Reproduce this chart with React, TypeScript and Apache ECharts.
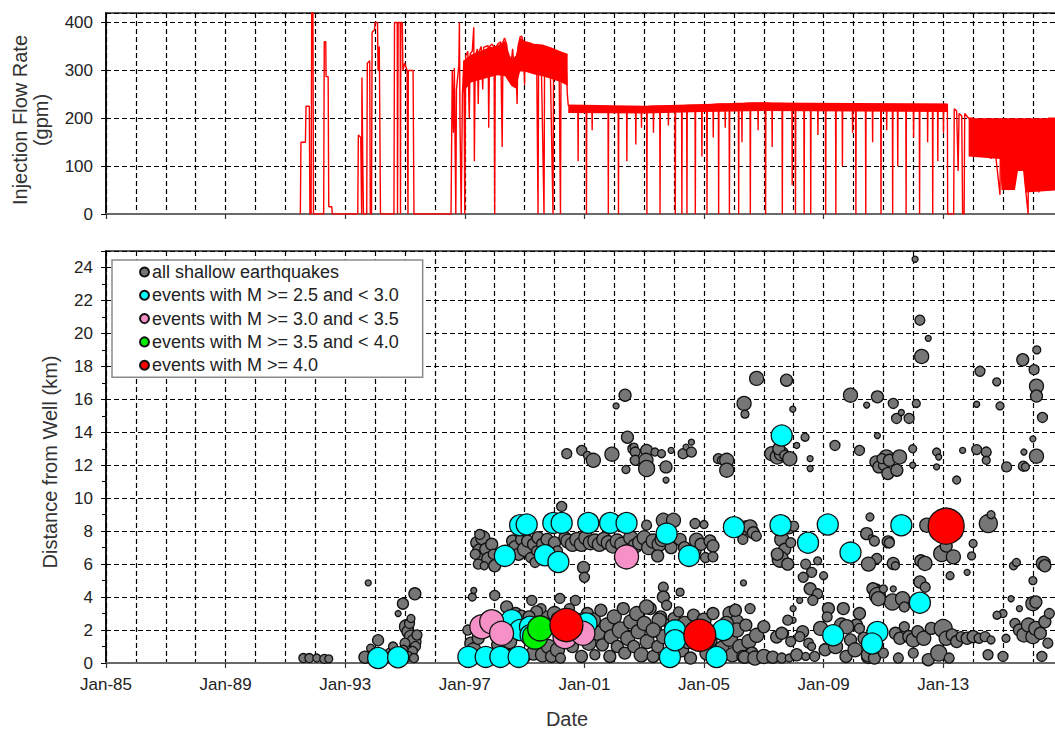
import React, { useEffect, useRef } from 'react';
import * as echarts from 'echarts';

const X_MIN = 1985;
const X_MAX = 2016.94;
const FONT = '"Liberation Sans", Arial, sans-serif';

// Injection flow rate (gpm) [decimal year, rate]
const flowRate: [number, number][] = [
  [1991.5, 0], [1991.52, 150], [1991.67, 150], [1991.69, 225], [1991.8, 225], [1991.82, 0], [1991.86, 0],
  [1991.88, 430], [1991.92, 430], [1991.94, 0], [1992.28, 0], [1992.3, 360], [1992.35, 360], [1992.36, 287],
  [1992.43, 287], [1992.45, 15], [1992.55, 15], [1992.57, 0],
  [1993.42, 0], [1993.44, 165], [1993.52, 160], [1993.55, 0], [1993.56, 285], [1993.59, 100], [1993.61, 0],
  [1993.72, 0], [1993.74, 315], [1993.82, 320], [1993.84, 0], [1993.88, 0], [1993.9, 380], [1993.98, 385],
  [1994.0, 400], [1994.08, 400], [1994.1, 300], [1994.14, 350], [1994.18, 0], [1994.63, 0], [1994.65, 400],
  [1994.74, 400], [1994.75, 0], [1994.77, 400], [1994.84, 400], [1994.85, 0], [1994.86, 400], [1994.91, 400],
  [1994.93, 300], [1994.99, 315], [1995.07, 300], [1995.1, 0], [1995.11, 300], [1995.27, 300], [1995.3, 0],
  [1996.54, 0], [1996.58, 300], [1996.62, 170], [1996.65, 305], [1996.7, 0], [1996.72, 260], [1996.8, 310],
  [1996.82, 400], [1996.84, 190], [1996.88, 0], [1996.92, 250], [1996.97, 320], [1997.0, 0], [1997.03, 330],
  [1997.1, 340], [1997.15, 200], [1997.18, 335], [1997.25, 340], [1997.3, 390], [1997.32, 110], [1997.35, 330],
  [1997.42, 345], [1997.45, 230], [1997.48, 340], [1997.55, 350], [1997.6, 260], [1997.63, 348], [1997.7, 350],
  [1997.78, 352], [1997.8, 180], [1997.83, 350], [1997.9, 355], [1997.98, 350], [1998.0, 0], [1998.02, 345],
  [1998.1, 355], [1998.2, 360], [1998.25, 140], [1998.28, 360], [1998.33, 368], [1998.4, 355], [1998.45, 320],
  [1998.5, 330], [1998.55, 315], [1998.6, 345], [1998.65, 300], [1998.7, 330], [1998.75, 230], [1998.78, 350],
  [1998.85, 370], [1998.9, 372], [1998.95, 360], [1999.0, 270], [1999.02, 358], [1999.1, 355], [1999.2, 357],
  [1999.3, 352], [1999.4, 350], [1999.45, 0], [1999.47, 350], [1999.55, 348], [1999.65, 0], [1999.67, 347],
  [1999.75, 345], [1999.85, 340], [1999.95, 0], [1999.97, 340], [2000.05, 338], [2000.15, 335], [2000.2, 0],
  [2000.22, 335], [2000.3, 332], [2000.38, 330], [2000.43, 250],
  [2000.46, 227], [2000.6, 225], [2000.78, 225], [2000.79, 110], [2000.8, 225], [2001.06, 225], [2001.07, 0],
  [2001.08, 225], [2001.25, 222], [2001.26, 175], [2001.27, 222], [2001.79, 222], [2001.8, 0], [2001.81, 222],
  [2002.13, 222], [2002.14, 0], [2002.15, 222], [2002.41, 222], [2002.42, 110], [2002.43, 222], [2002.71, 222],
  [2002.72, 145], [2002.73, 222], [2002.9, 223], [2002.91, 180], [2002.92, 223],
  [2003.08, 224], [2003.09, 0], [2003.1, 224], [2003.3, 225], [2003.31, 170], [2003.32, 225], [2003.52, 225],
  [2003.53, 0], [2003.54, 225], [2003.8, 226], [2003.81, 185], [2003.82, 226], [2004.03, 226],
  [2004.04, 0], [2004.05, 226], [2004.25, 226], [2004.26, 0], [2004.27, 226], [2004.42, 227], [2004.43, 0],
  [2004.44, 227], [2004.7, 227], [2004.71, 0], [2004.72, 227], [2004.92, 227], [2004.93, 120], [2004.94, 228],
  [2005.09, 228], [2005.1, 0], [2005.11, 228], [2005.3, 229], [2005.31, 160], [2005.32, 229], [2005.48, 230],
  [2005.49, 0], [2005.5, 230], [2005.7, 230], [2005.71, 180], [2005.72, 230], [2005.84, 230],
  [2005.85, 0], [2005.86, 230], [2006.15, 231], [2006.16, 0], [2006.17, 231], [2006.26, 231], [2006.27, 150],
  [2006.28, 231], [2006.54, 232], [2006.55, 0], [2006.56, 232], [2006.8, 232], [2006.81, 175], [2006.82, 232],
  [2007.05, 232], [2007.06, 0], [2007.07, 232],
  [2007.27, 231], [2007.28, 140], [2007.29, 231], [2007.61, 231], [2007.62, 0], [2007.63, 231], [2007.94, 230],
  [2007.95, 60], [2007.96, 230], [2008.05, 230], [2008.06, 0], [2008.07, 230], [2008.34, 230], [2008.35, 0],
  [2008.36, 230], [2008.56, 230], [2008.57, 0], [2008.58, 230], [2008.8, 230], [2008.81, 165], [2008.82, 230],
  [2009.06, 230], [2009.07, 0], [2009.08, 230],
  [2009.4, 229], [2009.41, 0], [2009.42, 229], [2009.62, 229], [2009.63, 100], [2009.64, 229], [2009.96, 229],
  [2009.97, 170], [2009.98, 229], [2010.07, 229], [2010.08, 0], [2010.09, 229], [2010.4, 229], [2010.41, 0],
  [2010.42, 229], [2010.63, 229], [2010.64, 150], [2010.65, 229], [2010.91, 229], [2010.92, 0], [2010.93, 229],
  [2011.1, 229], [2011.11, 175], [2011.12, 229],
  [2011.3, 229], [2011.31, 0], [2011.32, 229], [2011.47, 229], [2011.48, 100], [2011.49, 229], [2011.75, 229],
  [2011.76, 0], [2011.77, 229], [2012.0, 229], [2012.01, 160], [2012.02, 229], [2012.2, 229], [2012.21, 0],
  [2012.22, 229], [2012.47, 229], [2012.48, 150],
  [2012.49, 229], [2012.64, 229], [2012.65, 0], [2012.66, 229], [2012.81, 229], [2012.82, 110], [2012.83, 229],
  [2013.0, 229], [2013.01, 170], [2013.02, 229], [2013.14, 229], [2013.15, 0],
  [2013.35, 0], [2013.37, 220], [2013.45, 215], [2013.5, 90], [2013.53, 210], [2013.62, 205], [2013.65, 0],
  [2013.7, 0], [2013.72, 210], [2013.85, 200], [2014.0, 200], [2014.3, 120], [2014.32, 200], [2014.6, 115],
  [2014.62, 200], [2014.9, 40], [2014.92, 200], [2015.2, 50], [2015.22, 200], [2015.5, 95], [2015.52, 200],
  [2015.84, 0], [2015.86, 200], [2016.2, 45], [2016.22, 200], [2016.5, 55], [2016.52, 200], [2016.94, 200],
];

// Envelopes of the densely fluctuating periods (daily data)
const bandADates = [1996.95, 1997.2, 1997.5, 1997.8, 1998.1, 1998.35, 1998.55, 1998.7, 1998.85, 1999.0, 1999.3, 1999.6, 1999.9, 2000.2, 2000.44];
const bandAUpper = [320, 333, 340, 348, 352, 362, 322, 330, 368, 362, 356, 354, 348, 340, 335];
const bandALower = [255, 275, 280, 285, 290, 288, 268, 262, 298, 298, 292, 288, 282, 276, 268];
const bandBDates = [2000.46, 2003.0, 2005.0, 2007.0, 2010.0, 2013.14];
const bandBUpper = [229, 226, 230, 233, 232, 231];
const bandBLower = [211, 210, 213, 215, 214, 213];
const bandCDates = [2013.85, 2014.9, 2014.95, 2015.4, 2015.5, 2015.7, 2015.75, 2016.94];
const bandCUpper = [200, 200, 200, 200, 200, 200, 200, 200];
const bandCLower = [120, 115, 50, 50, 90, 90, 45, 50];

// [decimal year, distance km, symbol size]
const allShallow: [number, number, number][] = [
  [1991.6, 0.3, 9], [1991.8, 0.3, 9], [1992.05, 0.3, 8], [1992.3, 0.25, 9], [1992.45, 0.25, 8],
  [1993.66, 0.35, 12], [1993.77, 4.86, 6], [1993.85, 0.9, 8], [1994.1, 1.38, 11], [1994.0, 0.6, 10], [1994.3, 0.4, 10],
  [1994.5, 0.6, 10], [1994.6, 1.0, 9], [1994.77, 3.0, 6], [1994.93, 3.6, 11], [1995.33, 4.2, 12], [1995.05, 2.2, 14],
  [1995.1, 1.9, 12], [1995.2, 1.6, 13], [1995.3, 1.3, 14], [1995.35, 1.0, 10], [1995.15, 2.4, 10], [1995.25, 0.7, 10],
  [1995.0, 1.2, 10], [1994.95, 0.8, 9], [1995.4, 1.7, 10], [1995.1, 0.4, 10], [1995.3, 0.3, 9], [1995.2, 2.7, 8],
  [1997.25, 4.0, 8], [1997.3, 4.4, 6], [1998.0, 4.1, 10], [1998.4, 3.4, 12],
  [1997.4, 7.3, 12], [1997.5, 6.8, 14], [1997.55, 6.3, 12], [1997.6, 7.6, 14], [1997.7, 6.9, 12], [1997.8, 6.3, 14],
  [1997.9, 7.2, 12], [1997.95, 6.6, 10], [1997.45, 6.0, 10], [1997.65, 5.9, 8], [1998.0, 5.9, 12], [1997.35, 6.6, 10],
  [1997.5, 7.8, 10], [1998.6, 7.4, 12], [1998.7, 7.0, 14], [1998.8, 6.6, 12], [1998.9, 7.5, 12], [1999.0, 6.9, 14],
  [1999.1, 7.4, 12], [1999.2, 6.4, 10], [1999.3, 7.2, 12], [1999.45, 7.6, 12], [1999.4, 6.8, 10], [1999.35, 6.1, 10],
  [1999.6, 7.2, 12], [1999.75, 7.5, 12], [1999.85, 6.9, 10], [2000.0, 7.3, 12], [2000.1, 6.8, 10], [2000.24, 9.5, 10],
  [2000.35, 7.6, 12], [2000.97, 5.8, 12], [2001.0, 5.2, 10],
  [2000.45, 7.4, 14], [2000.6, 7.2, 14], [2000.75, 7.5, 14], [2000.9, 7.2, 14], [2001.05, 7.6, 14], [2001.2, 7.3, 14],
  [2001.35, 7.4, 14], [2001.5, 7.2, 14], [2001.65, 7.5, 14], [2001.8, 7.3, 14], [2001.95, 7.1, 14], [2002.1, 7.4, 14],
  [2002.25, 7.2, 14], [2002.55, 7.6, 14], [2002.7, 7.1, 14], [2002.85, 7.3, 14], [2003.0, 7.6, 14], [2003.15, 7.0, 14],
  [2003.3, 7.4, 14], [2003.5, 7.2, 14], [2003.45, 6.5, 12], [2003.6, 7.5, 14], [2003.9, 7.0, 12], [2004.2, 7.5, 12],
  [2004.35, 7.0, 12], [2004.7, 6.8, 12], [2004.75, 7.45, 14], [2004.9, 7.2, 12], [2005.05, 6.4, 10], [2005.2, 7.4, 12],
  [2005.3, 7.1, 12], [2005.3, 6.44, 10], [2003.08, 8.36, 10], [2003.64, 8.66, 14], [2003.98, 8.66, 14], [2004.7, 8.46, 10],
  [2005.0, 8.4, 8],
  [2000.41, 12.7, 10], [2000.91, 12.9, 10], [2001.1, 12.6, 8], [2001.3, 12.3, 14], [2001.92, 12.67, 14], [2002.06, 15.6, 6],
  [2002.36, 16.25, 12], [2002.39, 11.74, 8], [2002.44, 13.7, 12], [2002.62, 13.0, 10], [2002.66, 13.1, 8], [2002.7, 12.8, 10],
  [2002.7, 12.3, 10], [2003.08, 12.9, 12], [2003.06, 12.3, 14], [2003.08, 11.8, 16], [2003.36, 12.8, 8], [2003.58, 12.7, 8],
  [2003.73, 11.9, 12], [2003.73, 11.1, 6], [2003.9, 12.9, 6], [2004.3, 12.7, 10], [2004.4, 13.1, 6], [2004.58, 12.8, 10],
  [2004.58, 13.4, 6], [2005.48, 12.4, 10], [2005.58, 12.3, 8], [2005.76, 12.3, 14], [2005.76, 11.7, 14], [2006.34, 15.75, 14],
  [2006.37, 15.1, 8], [2006.76, 17.27, 14], [2007.76, 17.16, 12], [2007.97, 15.4, 6], [2007.27, 12.7, 14], [2007.45, 12.5, 14],
  [2007.59, 12.7, 14], [2007.5, 13.0, 12], [2007.7, 12.6, 10], [2007.87, 12.4, 14], [2008.1, 13.2, 6], [2008.55, 12.4, 6],
  [2008.55, 11.8, 6], [2008.38, 13.7, 8], [2009.38, 13.2, 10], [2009.9, 16.25, 14], [2010.2, 12.9, 10], [2010.44, 15.65, 6],
  [2010.8, 16.15, 12], [2010.8, 13.8, 6], [2010.75, 12.2, 12], [2010.85, 11.9, 12], [2011.0, 12.0, 10], [2011.1, 12.5, 14],
  [2011.15, 11.5, 12], [2010.95, 12.4, 10], [2011.2, 12.3, 12], [2011.54, 12.5, 14], [2011.45, 11.7, 12], [2011.33, 15.75, 10],
  [2011.44, 14.84, 10], [2011.6, 15.2, 6], [2011.86, 14.84, 10], [2012.1, 15.75, 8], [2011.98, 13.0, 8], [2011.98, 12.0, 6],
  [2012.06, 24.5, 6], [2012.22, 20.8, 10], [2012.5, 19.7, 6], [2012.28, 18.6, 14], [2012.78, 12.8, 8], [2012.85, 12.5, 6],
  [2012.78, 11.9, 6], [2013.45, 11.1, 8], [2013.65, 12.9, 6], [2014.12, 12.95, 10], [2014.44, 12.8, 10], [2014.44, 12.3, 8],
  [2014.23, 17.7, 10], [2014.79, 17.06, 8], [2014.12, 15.7, 6], [2014.9, 15.6, 8], [2015.12, 11.9, 10], [2015.68, 11.94, 10],
  [2015.75, 11.9, 8], [2015.7, 12.8, 6], [2016.12, 12.55, 14], [2016.0, 13.6, 6], [2015.66, 18.4, 12], [2016.13, 19.0, 8],
  [2016.04, 17.8, 10], [2016.12, 16.8, 14], [2016.12, 16.2, 12], [2016.32, 14.9, 10],
  [2006.4, 8.2, 14], [2006.54, 8.26, 14], [2006.65, 7.9, 12], [2006.75, 7.7, 10], [2006.3, 7.5, 10], [2007.6, 7.5, 14],
  [2007.7, 6.9, 12], [2007.55, 6.3, 16], [2007.8, 6.0, 12], [2007.9, 7.3, 10], [2007.84, 8.2, 12], [2008.0, 8.3, 10],
  [2007.45, 6.6, 12], [2008.4, 6.0, 10], [2008.6, 5.5, 10], [2008.8, 6.2, 8], [2009.0, 5.3, 8], [2008.9, 8.46, 6],
  [2010.44, 7.85, 12], [2010.55, 8.86, 8], [2010.6, 7.6, 6], [2010.7, 7.4, 10], [2011.16, 7.35, 12], [2011.2, 7.3, 10],
  [2010.78, 6.34, 10], [2010.5, 6.0, 14], [2011.33, 6.04, 12], [2011.4, 5.9, 8], [2012.25, 6.2, 12], [2012.39, 6.04, 14],
  [2012.45, 8.36, 14], [2012.95, 6.64, 16], [2013.34, 6.44, 14], [2013.1, 7.1, 12], [2014.0, 7.25, 8], [2013.95, 6.5, 8],
  [2013.8, 5.5, 6], [2014.51, 8.46, 18], [2014.6, 9.0, 8], [2015.35, 5.9, 8], [2015.45, 6.1, 8], [2016.35, 6.04, 14],
  [2016.4, 5.9, 12], [2016.0, 5.0, 8], [2012.22, 4.92, 12], [2012.4, 4.6, 10], [2013.23, 5.3, 8], [2010.8, 4.6, 6],
  [2011.33, 4.5, 6],
  [2003.64, 4.6, 10], [2003.64, 4.0, 12], [2004.2, 4.3, 8], [2006.32, 4.86, 6], [2008.32, 5.2, 10], [2008.55, 4.5, 12],
  [2008.8, 4.2, 10], [2008.64, 3.8, 10], [2009.16, 3.3, 12], [2009.12, 2.8, 10], [2009.66, 3.3, 12], [2010.2, 3.0, 12],
  [2010.1, 2.3, 12], [2010.65, 4.5, 12], [2010.8, 4.1, 16], [2011.0, 4.5, 8], [2011.3, 3.7, 16], [2010.83, 3.9, 14],
  [2011.64, 3.9, 14], [2011.7, 3.4, 10], [2015.0, 3.0, 8], [2015.55, 3.3, 6], [2015.27, 3.9, 6], [2016.0, 3.6, 14],
  [2016.1, 3.7, 12], [2008.2, 3.8, 6], [2007.98, 3.3, 6], [2007.98, 2.6, 6], [2006.54, 3.3, 10], [2005.87, 3.0, 14],
  [2006.09, 2.5, 14],
  [1997.2, 1.2, 12], [1997.3, 0.8, 14], [1997.45, 1.5, 12], [1997.1, 2.0, 10], [1998.1, 1.1, 12], [1998.3, 0.6, 12],
  [1998.5, 1.3, 14], [1998.6, 0.5, 12], [1999.0, 0.4, 12], [1999.3, 0.6, 14], [1999.6, 0.5, 14], [1999.8, 1.0, 14],
  [1999.9, 0.4, 12], [2000.1, 0.8, 14], [2000.2, 0.3, 10], [1999.7, 2.8, 12], [1999.55, 3.3, 10], [2000.0, 3.0, 14],
  [2000.1, 2.7, 12], [1999.24, 3.8, 10], [1999.4, 3.1, 12], [2000.7, 3.8, 10], [2000.18, 3.92, 10], [1998.7, 3.0, 12],
  [1998.9, 2.9, 10], [1999.15, 2.8, 12],
  [2000.5, 3.3, 10], [2000.6, 1.0, 12], [2000.7, 2.6, 14], [2000.8, 1.6, 12], [2000.9, 0.4, 12], [2001.0, 2.2, 14],
  [2001.1, 3.0, 12], [2001.15, 1.2, 14], [2001.3, 2.6, 14], [2001.35, 0.5, 10], [2001.45, 1.8, 14], [2001.55, 3.2, 12],
  [2001.6, 1.1, 12], [2001.75, 2.3, 14], [2001.85, 0.4, 12], [2001.9, 1.6, 14], [2002.0, 2.8, 14], [2002.1, 1.0, 12],
  [2002.2, 2.0, 16], [2002.3, 3.3, 12], [2002.35, 0.6, 12], [2002.45, 1.5, 14], [2002.55, 2.5, 14], [2002.65, 1.0, 12],
  [2002.75, 3.0, 14], [2002.8, 1.9, 14], [2002.9, 0.5, 14], [2003.0, 2.4, 14], [2003.1, 1.3, 14], [2003.2, 3.3, 12],
  [2003.3, 0.4, 12], [2003.35, 2.0, 14], [2003.45, 1.0, 12], [2003.55, 2.8, 12], [2003.65, 1.6, 14], [2003.75, 3.5, 10],
  [2003.8, 0.5, 14], [2003.9, 2.3, 14], [2004.0, 2.7, 12], [2004.15, 3.1, 10], [2004.25, 0.8, 14], [2004.35, 2.4, 14],
  [2004.45, 1.3, 14], [2004.55, 0.3, 12], [2004.65, 2.9, 12], [2004.7, 2.1, 14], [2005.0, 2.6, 14], [2005.1, 0.6, 14],
  [2005.2, 1.4, 14], [2005.3, 3.0, 12], [2005.6, 0.9, 14], [2005.75, 2.4, 14], [2005.85, 1.5, 16], [2005.95, 0.5, 14],
  [2006.05, 3.2, 12], [2006.1, 2.0, 14], [2006.2, 1.0, 14], [2006.3, 0.4, 12], [2006.4, 2.3, 12], [2006.5, 1.3, 14],
  [2006.6, 0.6, 12], [2003.08, 3.4, 14], [2003.5, 2.6, 14], [2003.3, 2.0, 14],
  [2006.76, 1.68, 14], [2007.0, 2.2, 12], [2007.43, 1.58, 12], [2007.7, 1.8, 8], [2006.35, 0.35, 12], [2006.7, 0.3, 14],
  [2007.0, 0.4, 14], [2007.3, 0.35, 12], [2007.6, 0.3, 10], [2007.85, 0.3, 8], [2007.6, 1.8, 12], [2007.8, 2.6, 10],
  [2007.9, 1.3, 10], [2008.1, 0.5, 12], [2008.3, 1.9, 12], [2008.5, 1.2, 10], [2008.7, 0.4, 10], [2008.9, 2.1, 14],
  [2009.05, 0.8, 12], [2009.4, 1.0, 14], [2009.6, 2.3, 14], [2009.75, 0.4, 12], [2009.9, 1.4, 12], [2010.05, 0.8, 14],
  [2010.2, 2.1, 10], [2010.35, 1.5, 12], [2010.5, 0.4, 14], [2009.77, 2.2, 14], [2008.2, 1.6, 10], [2008.6, 1.0, 8],
  [2008.4, 0.4, 8],
  [2010.5, 0.5, 14], [2010.7, 0.3, 12], [2011.0, 0.6, 10], [2011.5, 0.3, 10], [2012.0, 0.6, 10], [2012.5, 0.2, 12],
  [2012.85, 0.6, 16], [2013.2, 0.3, 10], [2014.5, 0.5, 10], [2015.0, 0.4, 10], [2016.3, 0.4, 10],
  [2011.4, 1.8, 12], [2011.55, 1.5, 12], [2011.7, 2.2, 10], [2011.85, 1.6, 12], [2012.0, 1.4, 14], [2012.15, 1.9, 12],
  [2012.35, 1.5, 14], [2012.6, 2.1, 12], [2013.0, 2.09, 18], [2013.1, 1.5, 14], [2013.3, 1.7, 12], [2013.45, 1.3, 12],
  [2013.6, 1.6, 10], [2013.8, 1.5, 12], [2014.0, 1.6, 12], [2014.2, 1.5, 10], [2014.4, 1.6, 10], [2014.6, 1.4, 8],
  [2015.4, 2.4, 10], [2015.55, 2.0, 12], [2015.7, 1.7, 14], [2015.85, 2.3, 14], [2016.0, 1.6, 14], [2016.1, 2.1, 14],
  [2016.25, 1.8, 12], [2016.4, 2.5, 12], [2016.5, 1.2, 10], [2016.55, 3.0, 10], [2014.8, 2.9, 8], [2015.1, 1.5, 8],
];

const m25to30: [number, number][] = [
  [1994.1, 0.3], [1994.77, 0.35], [1997.12, 0.37], [1997.7, 0.37], [1998.19, 0.37], [1998.8, 0.37],
  [1998.57, 2.6], [1998.85, 2.0], [1999.18, 2.2], [1999.2, 1.7], [2000.95, 2.4], [2001.07, 2.4],
  [1998.34, 6.5], [1998.85, 8.36], [1999.07, 8.4], [1999.96, 8.5], [2000.24, 8.5], [2001.13, 8.5],
  [2001.86, 8.5], [2002.41, 8.5], [1999.68, 6.54], [2000.13, 6.13], [2003.75, 7.85], [2004.5, 6.5],
  [2006.0, 8.24], [2007.56, 8.36], [2008.48, 7.3], [2009.14, 8.4], [2009.9, 6.7], [2011.6, 8.36],
  [2012.22, 3.66], [2007.6, 13.8], [2003.86, 0.36], [2004.03, 1.98], [2004.03, 1.38], [2005.64, 2.0],
  [2005.42, 0.36], [2009.32, 1.68], [2010.8, 1.88], [2010.62, 1.18],
];
const m30to35: [number, number][] = [
  [1997.57, 2.2], [1997.9, 2.5], [1998.23, 1.8], [2000.35, 1.6], [2000.95, 1.8], [2002.41, 6.44],
];
const m35to40: [number, number][] = [
  [1999.35, 1.6], [1999.52, 2.1],
];
const m40plus: [number, number, number][] = [
  [2000.4, 2.3, 33], [2004.86, 1.68, 32], [2013.1, 8.3, 36],
];

const seriesNames = [
  'all shallow earthquakes',
  'events with M >= 2.5 and < 3.0',
  'events with M >= 3.0 and < 3.5',
  'events with M >= 3.5 and < 4.0',
  'events with M >= 4.0',
];

const bands = [
  { dates: bandADates, upper: bandAUpper, lower: bandALower },
  { dates: bandBDates, upper: bandBUpper, lower: bandBLower },
  { dates: bandCDates, upper: bandCUpper, lower: bandCLower },
];

const dash = [5, 3];

function gridXAxes(gridIndex: number, showLabels: boolean) {
  return [
    {
      type: 'value', gridIndex, min: X_MIN, max: X_MAX, interval: 1, position: 'bottom',
      axisLine: { show: true, onZero: false, lineStyle: { color: '#6a6a6a', width: 2 } },
      axisTick: { show: false }, axisLabel: { show: false },
      splitLine: { show: true, lineStyle: { color: '#000', type: dash, width: 1.2 } },
    },
    {
      type: 'value', gridIndex, min: X_MIN, max: X_MAX, interval: 4, position: 'bottom',
      axisLine: { show: false, onZero: false },
      axisTick: { show: true, length: 5, lineStyle: { color: '#333', width: 1.2 } },
      axisLabel: {
        show: showLabels, color: '#222', fontSize: 17, fontFamily: FONT, margin: 13,
        showMaxLabel: false,
        formatter: (v: number) => 'Jan-' + String(Math.round(v) % 100).padStart(2, '0'),
      },
      splitLine: { show: false },
    },
  ];
}

export default function App() {
  const ref = useRef<HTMLDivElement>(null);
  useEffect(() => {
    if (!ref.current) return;
    const chart = echarts.init(ref.current, null, { renderer: 'svg' });
    const border = { borderColor: '#111', borderWidth: 1.3, opacity: 1 };
    const option: any = {
      animation: false,
      backgroundColor: '#fff',
      grid: [
        { left: 106, top: 13, right: -6, height: 201, show: true, borderColor: '#5a5a5a', borderWidth: 2, containLabel: false, outerBoundsMode: 'none' },
        { left: 106, top: 251, right: -6, height: 412, show: true, borderColor: '#5a5a5a', borderWidth: 2, containLabel: false, outerBoundsMode: 'none' },
      ],
      xAxis: [...gridXAxes(0, false), ...gridXAxes(1, true)],
      yAxis: [
        {
          type: 'value', gridIndex: 0, min: 0, max: 420, interval: 100,
          axisLine: { show: true, lineStyle: { color: '#000', width: 1.5 } },
          axisTick: { show: true, length: 5, lineStyle: { color: '#000' } },
          axisLabel: { color: '#222', fontSize: 17, fontFamily: FONT, margin: 13 },
          splitLine: { show: true, lineStyle: { color: '#000', type: dash, width: 1.2 } },
        },
        {
          type: 'value', gridIndex: 1, min: 0, max: 25, interval: 2,
          axisLine: { show: true, lineStyle: { color: '#000', width: 1.5 } },
          axisTick: { show: true, length: 5, lineStyle: { color: '#000' } },
          minorTick: { show: true, splitNumber: 2, length: 4, lineStyle: { color: '#000' } },
          axisLabel: { color: '#222', fontSize: 17, fontFamily: FONT, margin: 13 },
          splitLine: { show: true, lineStyle: { color: '#000', type: dash, width: 1.2 } },
        },
      ],
      legend: {
        data: seriesNames,
        orient: 'vertical',
        left: 112, top: 260,
        padding: [3, 24, 3, 27],
        itemGap: 5.3, itemWidth: 9, itemHeight: 9,
        backgroundColor: '#fff', borderColor: '#8a8a8a', borderWidth: 1.5, borderRadius: 0,
        selectedMode: false,
        textStyle: { color: '#222', fontSize: 18, fontFamily: FONT, padding: [0, 0, 0, -2], lineHeight: 18 },
      },
      graphic: [
        {
          type: 'text', x: 30, y: 120, rotation: Math.PI / 2,
          style: { text: 'Injection Flow Rate\n(gpm)', font: `20px ${FONT}`, fill: '#333', align: 'center', verticalAlign: 'middle', lineHeight: 21 },
        },
        {
          type: 'text', x: 50, y: 462, rotation: Math.PI / 2,
          style: { text: 'Distance from Well (km)', font: `20px ${FONT}`, fill: '#333', align: 'center', verticalAlign: 'middle' },
        },
        {
          type: 'text', x: 567, y: 719,
          style: { text: 'Date', font: `20px ${FONT}`, fill: '#333', align: 'center', verticalAlign: 'middle' },
        },
      ],
      series: [
        {
          type: 'custom', xAxisIndex: 0, yAxisIndex: 0, silent: true, clip: true,
          data: bands.map((b, i) => [b.dates[0], b.upper[0], i]),
          renderItem: (_params: any, api: any) => {
            const b = bands[api.value(2)];
            const top = b.dates.map((d, j) => api.coord([d, b.upper[j]]));
            const bottom = b.dates.map((d, j) => api.coord([d, b.lower[j]])).reverse();
            return { type: 'polygon', shape: { points: [...top, ...bottom] }, style: { fill: '#ff0000' } };
          },
        },
        {
          type: 'line', xAxisIndex: 0, yAxisIndex: 0, symbol: 'none', silent: true, clip: true,
          lineStyle: { color: '#ff0000', width: 1.4 },
          data: flowRate,
        },
        {
          name: seriesNames[0], type: 'scatter', xAxisIndex: 2, yAxisIndex: 1,
          symbolSize: (v: number[]) => v[2],
          itemStyle: { color: '#767676', ...border },
          data: allShallow,
        },
        {
          name: seriesNames[1], type: 'scatter', xAxisIndex: 2, yAxisIndex: 1, symbolSize: 21,
          itemStyle: { color: '#00ffff', ...border },
          data: m25to30,
        },
        {
          name: seriesNames[2], type: 'scatter', xAxisIndex: 2, yAxisIndex: 1, symbolSize: 24,
          itemStyle: { color: '#f691c8', ...border },
          data: m30to35,
        },
        {
          name: seriesNames[3], type: 'scatter', xAxisIndex: 2, yAxisIndex: 1, symbolSize: 25,
          itemStyle: { color: '#00ee00', ...border },
          data: m35to40,
        },
        {
          name: seriesNames[4], type: 'scatter', xAxisIndex: 2, yAxisIndex: 1,
          symbolSize: (v: number[]) => v[2],
          itemStyle: { color: '#ff0000', ...border },
          data: m40plus,
        },
      ],
    };
    chart.setOption(option);
    return () => chart.dispose();
  }, []);
  return <div ref={ref} style={{ position: 'absolute', left: 0, top: 0, width: 1055, height: 731 }} />;
}
